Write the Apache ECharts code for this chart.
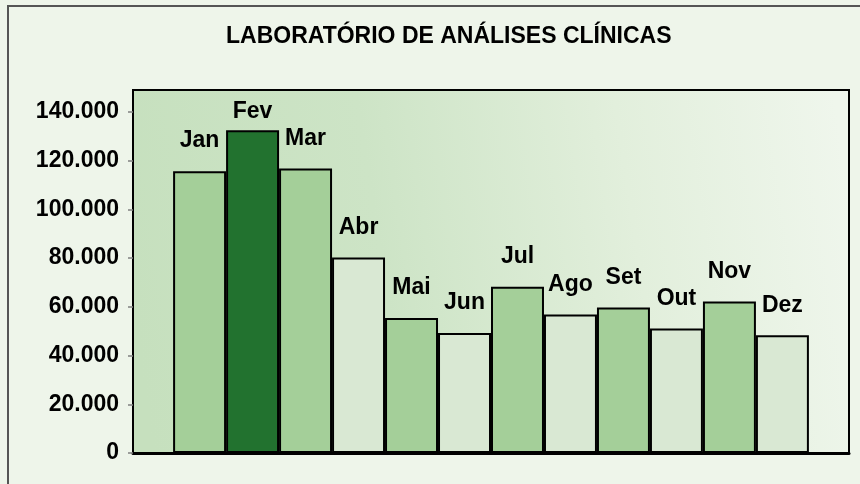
<!DOCTYPE html>
<html>
<head>
<meta charset="utf-8">
<script src="https://cdn.jsdelivr.net/npm/echarts@6/dist/echarts.min.js"></script>
<style>
  html, body { margin: 0; padding: 0; background: #eef5ea; }
  #chart { width: 860px; height: 484px; }
</style>
</head>
<body>
<div id="chart"></div>
<script>
var months = ["Jan", "Fev", "Mar", "Abr", "Mai", "Jun", "Jul", "Ago", "Set", "Out", "Nov", "Dez"];
var values = [115700, 132500, 116800, 80200, 55400, 49300, 68200, 56900, 59700, 51100, 62200, 48300];
var yTicks = [0, 20000, 40000, 60000, 80000, 100000, 120000, 140000];

var mid = "#a4cf99";
var dark = "#22722f";
var light = "#d9e8d3";
var barColors = [mid, dark, mid, light, mid, light, mid, light, mid, light, mid, light];

function fmt(v) {
  // 140000 -> 140.000
  return String(v).replace(/\B(?=(\d{3})+(?!\d))/g, ".");
}

var font = "'Liberation Sans', Arial, sans-serif";

var series = months.map(function (m, i) {
  return {
    name: m,
    type: "bar",
    data: [values[i]],
    barGap: "0%",
    barCategoryGap: "11.2%",
    itemStyle: {
      color: barColors[i],
      borderColor: "#000",
      borderWidth: 2
    },
    label: {
      show: true,
      position: "top",
      distance: i === 1 ? 7.5 : 18.5,
      formatter: "{a}",
      color: "#000",
      fontFamily: font,
      fontWeight: "bold",
      fontSize: 23
    },
    animation: false
  };
});

var myChart = echarts.init(document.getElementById("chart"));
var option = {
  backgroundColor: "#eef5ea",
  animation: false,
  title: {
    text: "LABORATÓRIO DE ANÁLISES CLÍNICAS",
    left: 226,
    top: 25,
    padding: 0,
    textStyle: {
      color: "#000",
      fontFamily: font,
      fontWeight: "bold",
      fontSize: 23
    }
  },
  graphic: [
    {
      type: "rect",
      shape: { x: 8, y: 6, width: 900, height: 520 },
      style: { fill: "none", stroke: "#555", lineWidth: 2 },
      silent: true
    }
  ],
  grid: {
    left: 133,
    right: 11,
    top: 90,
    bottom: 31,
    show: true,
    borderColor: "#000",
    borderWidth: 2,
    backgroundColor: new echarts.graphic.LinearGradient(0, 0.6, 1, 0.3, [
      { offset: 0, color: "#c6e0be" },
      { offset: 0.35, color: "#cde4c6" },
      { offset: 0.7, color: "#e2efdc" },
      { offset: 1, color: "#eff6ec" }
    ]),
    outerBoundsMode: "none"
  },
  xAxis: {
    type: "category",
    data: [""],
    axisLine: { lineStyle: { color: "#000", width: 3 } },
    axisTick: { show: false },
    axisLabel: { show: false }
  },
  yAxis: {
    type: "value",
    min: 0,
    max: 149000,
    interval: 20000,
    splitLine: { show: false },
    axisLine: { show: true, lineStyle: { color: "#000", width: 2 } },
    axisTick: {
      show: true,
      length: 5,
      customValues: yTicks,
      lineStyle: { color: "#808080", width: 1.5 }
    },
    axisLabel: {
      margin: 14,
      customValues: yTicks,
      formatter: fmt,
      color: "#000",
      fontFamily: font,
      fontWeight: "bold",
      fontSize: 23
    }
  },
  series: series
};
myChart.setOption(option);
</script>
</body>
</html>
